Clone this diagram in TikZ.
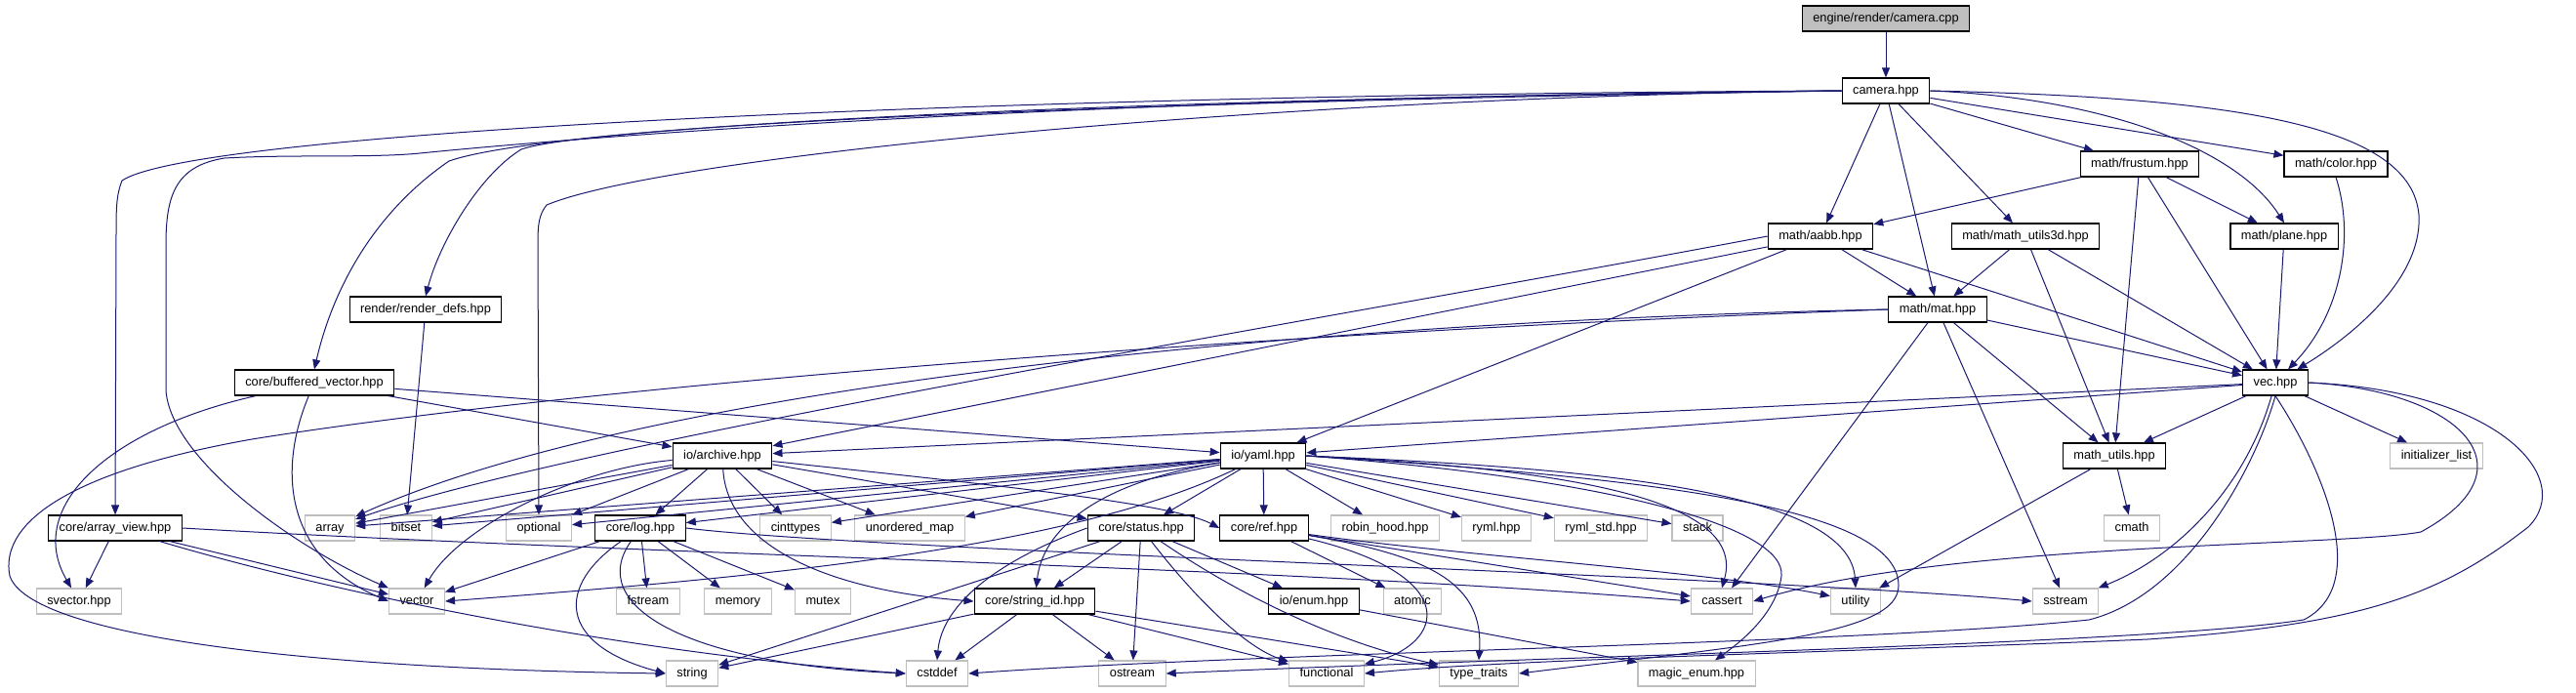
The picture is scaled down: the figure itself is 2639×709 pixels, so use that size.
\documentclass[tikz,border=0pt]{standalone}
\usepackage{fontspec}
\setmainfont{Liberation Sans}
\usetikzlibrary{arrows.meta}

\definecolor{edgeblue}{HTML}{191970}
\definecolor{sysgray}{HTML}{BFBFBF}

\begin{document}
\begin{tikzpicture}[x=0.5pt, y=-0.5pt,
        hdr/.style={rectangle, draw=black, line width=0.6pt, fill=white, font=\fontsize{6.4}{7}\selectfont, minimum height=13pt, inner xsep=5.5pt, inner ysep=0pt, text height=4.7pt, text depth=1.3pt},
        syshdr/.style={hdr, draw=sysgray},
        srcfile/.style={hdr, fill=sysgray},
        inc/.style={draw=edgeblue, line width=0.5pt, -{Triangle[length=5pt,width=4pt]}}]

        \useasboundingbox (0,0) rectangle (2639,709);

        \node[srcfile] (cpp) at (1932,19) {engine/render/camera.cpp};
        \node[hdr] (camhpp) at (1932,93) {camera.hpp};
        \node[hdr] (frustum) at (2192,168) {math/frustum.hpp};
        \node[hdr] (color) at (2393,168) {math/color.hpp};
        \node[hdr] (aabb) at (1865,242) {math/aabb.hpp};
        \node[hdr] (utilsthreed) at (2075,242) {math/math\_utils3d.hpp};
        \node[hdr] (plane) at (2340,242) {math/plane.hpp};
        \node[hdr] (renderdefs) at (436,317) {render/render\_defs.hpp};
        \node[hdr] (mat) at (1985,317) {math/mat.hpp};
        \node[hdr] (buffvec) at (322,392) {core/buffered\_vector.hpp};
        \node[hdr] (vec) at (2331,392) {vec.hpp};
        \node[hdr] (archive) at (740,467) {io/archive.hpp};
        \node[hdr] (yaml) at (1294,467) {io/yaml.hpp};
        \node[hdr] (mathutils) at (2166,467) {math\_utils.hpp};
        \node[syshdr] (initlist) at (2496,467) {initializer\_list};
        \node[hdr] (arrayview) at (118,541) {core/array\_view.hpp};
        \node[syshdr] (array) at (338,541) {array};
        \node[syshdr] (bitset) at (416,541) {bitset};
        \node[syshdr] (optional) at (552,541) {optional};
        \node[hdr] (log) at (656,541) {core/log.hpp};
        \node[syshdr] (cinttypes) at (815,541) {cinttypes};
        \node[syshdr] (umap) at (932,541) {unordered\_map};
        \node[hdr] (status) at (1169,541) {core/status.hpp};
        \node[hdr] (ref) at (1295,541) {core/ref.hpp};
        \node[syshdr] (robinhood) at (1419,541) {robin\_hood.hpp};
        \node[syshdr] (ryml) at (1533,541) {ryml.hpp};
        \node[syshdr] (rymlstd) at (1640,541) {ryml\_std.hpp};
        \node[syshdr] (stack) at (1739,541) {stack};
        \node[syshdr] (cmath) at (2184,541) {cmath};
        \node[syshdr] (svector) at (81,616) {svector.hpp};
        \node[syshdr] (vector) at (427,616) {vector};
        \node[syshdr] (fstream) at (664,616) {fstream};
        \node[syshdr] (memory) at (756,616) {memory};
        \node[syshdr] (mutex) at (843,616) {mutex};
        \node[hdr] (stringid) at (1060,616) {core/string\_id.hpp};
        \node[hdr] (enum) at (1346,616) {io/enum.hpp};
        \node[syshdr] (atomic) at (1447,616) {atomic};
        \node[syshdr] (cassert) at (1764,616) {cassert};
        \node[syshdr] (utility) at (1901,616) {utility};
        \node[syshdr] (sstream) at (2116,616) {sstream};
        \node[syshdr] (string) at (709,690) {string};
        \node[syshdr] (cstddef) at (960,690) {cstddef};
        \node[syshdr] (ostream) at (1160,690) {ostream};
        \node[syshdr] (functional) at (1359,690) {functional};
        \node[syshdr] (typetraits) at (1515,690) {type\_traits};
        \node[syshdr] (magicenum) at (1738,690) {magic\_enum.hpp};

        % camera.cpp / camera.hpp
        \draw[inc] (cpp) -- (camhpp);
        \draw[inc] (camhpp) -- (frustum);
        \draw[inc] (camhpp) -- (color);
        \draw[inc] (camhpp) -- (aabb);
        \draw[inc] (camhpp) -- (mat);
        \draw[inc] (camhpp) -- (utilsthreed);
        \draw[inc] (camhpp.east) .. controls (2150,100) and (2290,150) .. (plane.north);
        \draw[inc] (camhpp.east) .. controls (2300,100) and (2470,130) .. (2478,220) .. controls (2482,290) and (2400,350) .. (vec);
        \draw[inc] (camhpp.west) .. controls (1000,97) and (200,135) .. (125,185) .. controls (119,200) and (119,215) .. (119,240) -- (arrayview);
        \draw[inc] (camhpp.west) .. controls (1100,100) and (600,140) .. (430,157) .. controls (380,162) and (300,158) .. (230,162) .. controls (180,170) and (170,200) .. (170,250) -- (170,400) .. controls (175,470) and (300,560) .. (vector.north west);
        \draw[inc] (camhpp.west) .. controls (1100,102) and (560,130) .. (460,165) .. controls (380,220) and (340,300) .. (buffvec.north);
        \draw[inc] (camhpp.west) .. controls (1100,105) and (600,130) .. (534,153) .. controls (490,180) and (450,250) .. (renderdefs.north);
        \draw[inc] (camhpp.west) .. controls (1300,100) and (680,160) .. (560,210) .. controls (552,220) and (551,230) .. (551,250) -- (optional.north);

        % math headers
        \draw[inc] (frustum) -- (aabb);
        \draw[inc] (frustum) -- (plane);
        \draw[inc] (frustum) -- (mathutils);
        \draw[inc] (frustum) -- (vec);
        \draw[inc] (color.south) .. controls (2412,240) and (2400,320) .. (vec);
        \draw[inc] (plane) -- (vec);
        \draw[inc] (aabb) -- (mat);
        \draw[inc] (aabb) -- (vec);
        \draw[inc] (aabb) -- (yaml);
        \draw[inc] (aabb) -- (archive);
        \draw[inc] (aabb.west) .. controls (1400,320) and (600,450) .. (array);
        \draw[inc] (utilsthreed) -- (mat);
        \draw[inc] (utilsthreed) -- (mathutils);
        \draw[inc] (utilsthreed) -- (vec);
        \draw[inc] (mat) -- (vec);
        \draw[inc] (mat) -- (mathutils);
        \draw[inc] (mat) -- (cassert);
        \draw[inc] (mat) -- (sstream);
        \draw[inc] (mat.west) .. controls (1300,330) and (650,400) .. (array);
        \draw[inc] (mat.west) .. controls (1300,340) and (600,395) .. (258,450) .. controls (60,485) and (0,540) .. (10,590) .. controls (30,650) and (300,685) .. (string.west);
        \draw[inc] (mathutils) -- (cmath);
        \draw[inc] (mathutils) -- (utility);

        % vec.hpp
        \draw[inc] (vec) -- (archive);
        \draw[inc] (vec) -- (yaml);
        \draw[inc] (vec) -- (mathutils);
        \draw[inc] (vec) -- (initlist);
        \draw[inc] (vec) .. controls (2300,500) and (2230,570) .. (sstream);
        \draw[inc] (vec.east) .. controls (2520,400) and (2600,480) .. (2480,545) .. controls (2400,560) and (2000,555) .. (cassert.east);
        \draw[inc] (vec.south) .. controls (2310,480) and (2240,610) .. (2140,635) .. controls (1900,660) and (1300,668) .. (cstddef.east);
        \draw[inc] (vec.south) .. controls (2380,480) and (2430,600) .. (2360,635) .. controls (2200,660) and (1600,672) .. (ostream.east);
        \draw[inc] (vec.east) .. controls (2560,400) and (2640,490) .. (2590,540) .. controls (2500,610) and (2420,640) .. (2200,655) .. controls (1900,668) and (1550,675) .. (functional.east);

        % render_defs / buffered_vector / array_view
        \draw[inc] (renderdefs) -- (bitset);
        \draw[inc] (buffvec) -- (archive);
        \draw[inc] (buffvec) -- (yaml);
        \draw[inc] (buffvec) .. controls (110,440) and (25,520) .. (svector);
        \draw[inc] (buffvec) .. controls (285,480) and (290,570) .. (vector.west);
        \draw[inc] (arrayview) -- (svector);
        \draw[inc] (arrayview) -- (vector);
        \draw[inc] (arrayview) .. controls (350,610) and (650,670) .. (cstddef.west);
        \draw[inc] (arrayview.east) .. controls (700,570) and (1300,580) .. (cassert.west);

        % io/archive.hpp
        \draw[inc] (archive) -- (array);
        \draw[inc] (archive) -- (bitset);
        \draw[inc] (archive) -- (optional);
        \draw[inc] (archive) -- (log);
        \draw[inc] (archive) -- (cinttypes);
        \draw[inc] (archive) -- (umap);
        \draw[inc] (archive) -- (status);
        \draw[inc] (archive) .. controls (1000,495) and (1200,515) .. (ref.west);
        \draw[inc] (archive) .. controls (590,480) and (470,540) .. (vector);
        \draw[inc] (archive) .. controls (745,560) and (850,605) .. (stringid.west);

        % io/yaml.hpp
        \draw[inc] (yaml) -- (array);
        \draw[inc] (yaml) -- (bitset);
        \draw[inc] (yaml) -- (optional);
        \draw[inc] (yaml) -- (log);
        \draw[inc] (yaml) -- (cinttypes);
        \draw[inc] (yaml) -- (umap);
        \draw[inc] (yaml) .. controls (1100,560) and (800,590) .. (vector.east);
        \draw[inc] (yaml) -- (status);
        \draw[inc] (yaml) -- (ref);
        \draw[inc] (yaml) -- (robinhood);
        \draw[inc] (yaml) -- (ryml);
        \draw[inc] (yaml) -- (rymlstd);
        \draw[inc] (yaml) -- (stack);
        \draw[inc] (yaml) .. controls (1120,495) and (1068,545) .. (stringid);
        \draw[inc] (yaml.east) .. controls (1600,480) and (1790,510) .. (cassert.north);
        \draw[inc] (yaml.east) .. controls (1650,480) and (1895,505) .. (utility.north);
        \draw[inc] (yaml.east) .. controls (1650,490) and (1830,540) .. (1825,590) .. controls (1820,630) and (1780,660) .. (magicenum);
        \draw[inc] (yaml.east) .. controls (1700,490) and (1945,520) .. (1945,600) .. controls (1945,650) and (1800,660) .. (typetraits.east);

        % core headers
        \draw[inc] (log) -- (vector);
        \draw[inc] (log) -- (fstream);
        \draw[inc] (log) -- (memory);
        \draw[inc] (log) -- (mutex);
        \draw[inc] (log) .. controls (570,600) and (570,660) .. (string.west);
        \draw[inc] (log) .. controls (600,620) and (700,680) .. (cstddef.west);
        \draw[inc] (log.east) .. controls (900,565) and (1800,590) .. (sstream.west);
        \draw[inc] (status) -- (stringid);
        \draw[inc] (status) -- (ostream);
        \draw[inc] (status) -- (enum);
        \draw[inc] (status) -- (string);
        \draw[inc] (status) .. controls (1230,620) and (1280,665) .. (functional);
        \draw[inc] (status) .. controls (1300,630) and (1400,665) .. (typetraits);
        \draw[inc] (status.west) .. controls (1020,575) and (965,620) .. (cstddef.north);
        \draw[inc] (stringid) -- (cstddef);
        \draw[inc] (stringid) -- (ostream);
        \draw[inc] (stringid) -- (functional);
        \draw[inc] (stringid) -- (typetraits);
        \draw[inc] (stringid) -- (string);
        \draw[inc] (ref) -- (atomic);
        \draw[inc] (ref) -- (cassert);
        \draw[inc] (ref) .. controls (1500,570) and (1750,585) .. (utility);
        \draw[inc] (ref) .. controls (1500,590) and (1480,660) .. (functional);
        \draw[inc] (ref) .. controls (1470,570) and (1520,600) .. (typetraits.north);
        \draw[inc] (enum) -- (magicenum);
    \end{tikzpicture}
\end{document}
